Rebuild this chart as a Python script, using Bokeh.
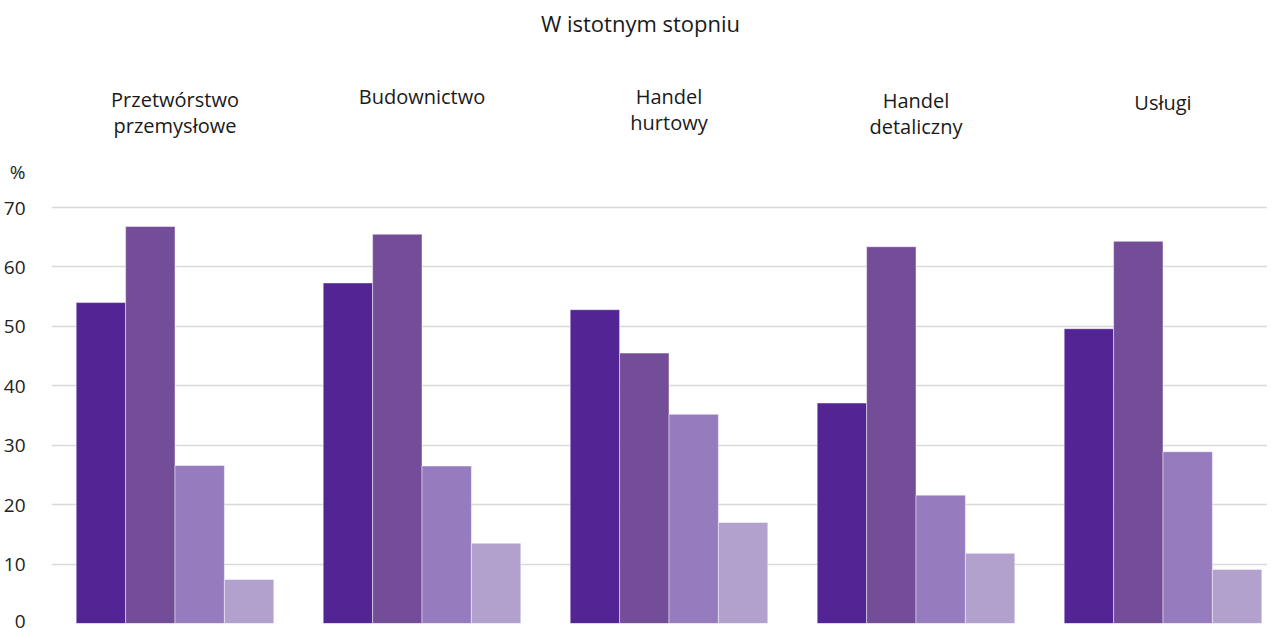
from bokeh.plotting import figure
from bokeh.models import ColumnDataSource, Range1d, FixedTicker
from bokeh.core.properties import value
from bokeh.embed import file_html
from bokeh.resources import INLINE

# ---- data ----
title = "W istotnym stopniu"
categories = ["Przetwórstwo\nprzemysłowe", "Budownictwo", "Handel\nhurtowy",
              "Handel\ndetaliczny", "Usługi"]
series_1 = [54.0, 57.3, 52.8, 37.1, 49.6]
series_2 = [66.8, 65.5, 45.5, 63.4, 64.3]
series_3 = [26.6, 26.5, 35.2, 21.6, 28.9]
series_4 = [7.4, 13.5, 17.0, 11.8, 9.1]
y_ticks = [0, 10, 20, 30, 40, 50, 60, 70]
unit_label = "%"

# ---- style ----
colors = ["#522494", "#744d98", "#967cbf", "#b3a1cd"]
FONT = "Open Sans"
W, H = 1267, 633
LEFT = 51
BOTTOM = 10
GROUP_PX = 247.0
FRAME_BOTTOM = H - BOTTOM          # pixel row of value 0
TOP70 = 207                        # pixel row of value 70
PX_PER_UNIT = (FRAME_BOTTOM - TOP70) / 70.0
UNIT_POS = 76                      # axis position used for the "%" label
label_center_px = [112, 96, 109, 113, 102]  # vertical centers of category labels

x_end = (W - LEFT) / GROUP_PX
y_end = FRAME_BOTTOM / PX_PER_UNIT

def py(y_px):
    return (FRAME_BOTTOM - y_px) / PX_PER_UNIT

def px(x_px):
    return (x_px - LEFT) / GROUP_PX

p = figure(width=W, height=H, output_backend="svg", toolbar_location=None,
           x_range=Range1d(0, x_end), y_range=Range1d(0, y_end),
           min_border_left=LEFT, min_border_right=0, min_border_top=0,
           min_border_bottom=BOTTOM)
p.outline_line_color = None
p.xaxis.visible = False
p.xgrid.grid_line_color = None
p.ygrid.ticker = FixedTicker(ticks=y_ticks)
p.ygrid.grid_line_color = "#d9d9d9"
p.ygrid.grid_line_width = 1.5
p.yaxis.ticker = FixedTicker(ticks=y_ticks + [UNIT_POS])
p.yaxis.major_label_overrides = {UNIT_POS: unit_label}
p.yaxis.axis_line_color = None
p.yaxis.major_tick_line_color = None
p.yaxis.minor_tick_line_color = None
p.yaxis.major_label_standoff = 20
p.yaxis.major_label_text_font = FONT
p.yaxis.major_label_text_font_size = "19px"
p.yaxis.major_label_text_color = "#222222"

series = [series_1, series_2, series_3, series_4]
n = len(series)
bw = 0.2
for j, vals in enumerate(series):
    xs = [i + 0.5 + (j - (n - 1) / 2) * bw for i in range(len(categories))]
    src = ColumnDataSource(dict(x=xs, top=vals))
    p.vbar(x="x", top="top", width=bw, bottom=0, source=src,
           fill_color=colors[j], line_color="white", line_alpha=0.45, line_width=1)

# category labels
lab_src = ColumnDataSource(dict(
    x=[i + 0.5 for i in range(len(categories))],
    y=[py(v) for v in label_center_px],
    text=categories))
p.text(x="x", y="y", text="text", source=lab_src, text_align="center",
       text_baseline="middle", text_font=value(FONT), text_font_size="20px",
       text_color="#1a1a1a", text_line_height=0.96)

# title
p.text(x=[px(640)], y=[py(22)], text=[title], text_align="center",
       text_baseline="middle", text_font=value(FONT), text_font_size="22px",
       text_color="#1a1a1a")

open("out.html", "w").write(file_html(p, INLINE))
